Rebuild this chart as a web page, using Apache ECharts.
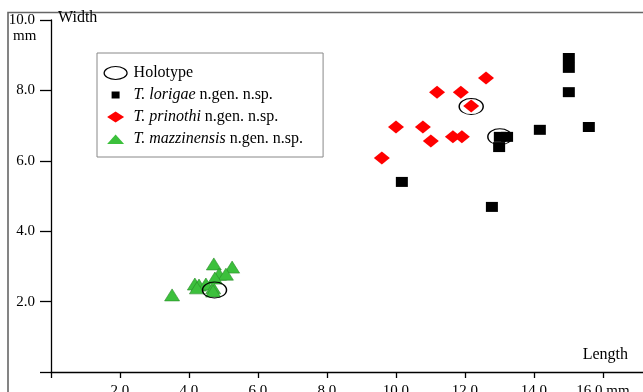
<!DOCTYPE html>
<html>
<head>
<meta charset="utf-8">
<script src="https://cdn.jsdelivr.net/npm/echarts@6/dist/echarts.min.js"></script>
<style>
html,body{margin:0;padding:0;background:#fff;}
#chart{width:643px;height:392px;}
</style>
</head>
<body>
<div id="chart"></div>
<script>
// ---- data (length, width in mm) ----
const lorigaeLength = [15.01, 15.01, 15.01, 15.59, 14.17, 13.01, 13.22, 12.99, 10.17, 12.78];
const lorigaeWidth  = [8.92, 8.64, 7.95, 6.96, 6.88, 6.68, 6.68, 6.39, 5.40, 4.69];

const prinothiLength = [12.61, 11.19, 11.88, 12.18, 10.00, 10.78, 11.01, 11.65, 11.91, 9.59];
const prinothiWidth  = [8.35, 7.95, 7.95, 7.56, 6.96, 6.96, 6.56, 6.68, 6.68, 6.08];

const mazzLength = [3.51, 4.72, 5.25, 4.87, 5.07, 4.75, 4.17, 4.29, 4.49, 4.23, 4.70, 4.70];
const mazzWidth  = [2.19, 3.07, 2.98, 2.78, 2.78, 2.67, 2.50, 2.47, 2.50, 2.39, 2.39, 2.30];

const holotypeLength = [4.74, 12.18, 13.01];
const holotypeWidth  = [2.33, 7.54, 6.68];

const seriesNames = ['Holotype', 'T. lorigae n.gen. n.sp.', 'T. prinothi n.gen. n.sp.', 'T. mazzinensis n.gen. n.sp.'];
const xTickValues = [2, 4, 6, 8, 10, 12, 14, 16];
const yTickValues = [2, 4, 6, 8, 10];

function pairs(xs, ys) { return xs.map((x, i) => [x, ys[i]]); }

const FONT = "'Liberation Serif', 'Times New Roman', serif";
const chart = echarts.init(document.getElementById('chart'), null, {renderer: 'canvas'});

const option = {
  animation: false,
  backgroundColor: '#fff',
  grid: {left: 51, right: 0, top: 20, bottom: 20, containLabel: false, outerBoundsMode: 'none'},
  xAxis: {
    type: 'value', min: 0, max: 17.16, interval: 2,
    splitLine: {show: false},
    axisLine: {show: true, lineStyle: {color: '#000', width: 1.3}},
    axisTick: {show: true, length: 6, lineStyle: {color: '#000', width: 1.3}},
    axisLabel: {
      margin: 12, color: '#000', fontFamily: FONT, fontSize: 15, showMaxLabel: false,
      formatter: v => xTickValues.indexOf(v) < 0 ? '' : (v === 16 ? '16.0 mm' : v.toFixed(1))
    },
    name: 'Length', nameLocation: 'end', nameGap: -15,
    nameTextStyle: {fontFamily: FONT, fontSize: 16, color: '#000', align: 'right', verticalAlign: 'bottom', padding: [0, 0, 9, 0]}
  },
  yAxis: {
    type: 'value', min: 0, max: 10, interval: 2,
    splitLine: {show: false},
    axisLine: {show: true, lineStyle: {color: '#000', width: 1.3}},
    axisTick: {show: true, length: 11, lineStyle: {color: '#000', width: 1.3}},
    axisLabel: {
      margin: 16, color: '#000', fontFamily: FONT, fontSize: 15,
      formatter: v => yTickValues.indexOf(v) < 0 ? '' : v.toFixed(1)
    },
    name: 'Width', nameLocation: 'end', nameGap: 2,
    nameTextStyle: {fontFamily: FONT, fontSize: 16, color: '#000', align: 'left', verticalAlign: 'middle', padding: [0, 0, 0, 7]}
  },
  legend: {
    orient: 'vertical', left: 97, top: 53,
    padding: [12, 20, 10, 5],
    itemWidth: 26, itemHeight: 14, itemGap: 6,
    backgroundColor: '#fff', borderColor: '#888', borderWidth: 1, borderRadius: 0,
    selectedMode: false,
    textStyle: {fontFamily: FONT, fontSize: 16, color: '#000', lineHeight: 16,
      rich: {i: {fontFamily: FONT, fontSize: 16, fontStyle: 'italic', color: '#000', lineHeight: 16},
             n: {fontFamily: FONT, fontSize: 16, color: '#000', lineHeight: 16}}},
    formatter: function (name) {
      const k = name.indexOf(' n.gen.');
      if (k < 0) return name;
      return '{i|' + name.slice(0, k) + '}{n|' + name.slice(k) + '}';
    },
    data: [
      {name: seriesNames[0], icon: 'path://M0,0M26,14M1.5,7a11.5,6.5 0 1,0 23,0a11.5,6.5 0 1,0 -23,0z', itemStyle: {color: 'rgba(0,0,0,0)', borderColor: '#000', borderWidth: 1.2}},
      {name: seriesNames[1], icon: 'path://M0,0M26,14M9,3.5h8v7h-8z'},
      {name: seriesNames[2], icon: 'path://M0,0M26,14M4.5,7L13,1.5L21.5,7L13,12.5z'},
      {name: seriesNames[3], icon: 'path://M0,0M26,14M4.5,12L13,2.5L21.5,12z', itemStyle: {borderWidth: 0}}
    ]
  },
  graphic: [
    {type: 'rect', z: -1, silent: true, shape: {x: 8, y: 12.5, width: 800, height: 600},
     style: {fill: 'none', stroke: '#666', lineWidth: 1.6}},
    {type: 'text', left: 13, top: 29, silent: true,
     style: {text: 'mm', font: '15px ' + FONT, fill: '#000'}}
  ],
  series: [
    {name: seriesNames[1], type: 'scatter', symbol: 'rect', symbolSize: [12, 10],
     itemStyle: {color: '#000', opacity: 1}, data: pairs(lorigaeLength, lorigaeWidth), z: 2},
    {name: seriesNames[2], type: 'scatter', symbol: 'diamond', symbolSize: [16, 13],
     itemStyle: {color: '#ff0000', opacity: 1}, data: pairs(prinothiLength, prinothiWidth), z: 2},
    {name: seriesNames[3], type: 'scatter', symbol: 'triangle', symbolSize: [15, 12],
     itemStyle: {color: '#3cc03c', borderColor: '#2a8a2a', borderWidth: 0.6, opacity: 1}, data: pairs(mazzLength, mazzWidth), z: 2},
    {name: seriesNames[0], type: 'scatter', symbol: 'circle', symbolSize: [24, 16],
     itemStyle: {color: 'rgba(0,0,0,0)', borderColor: '#000', borderWidth: 1.2, opacity: 1},
     data: pairs(holotypeLength, holotypeWidth), z: 5}
  ]
};
chart.setOption(option);
</script>
</body>
</html>
